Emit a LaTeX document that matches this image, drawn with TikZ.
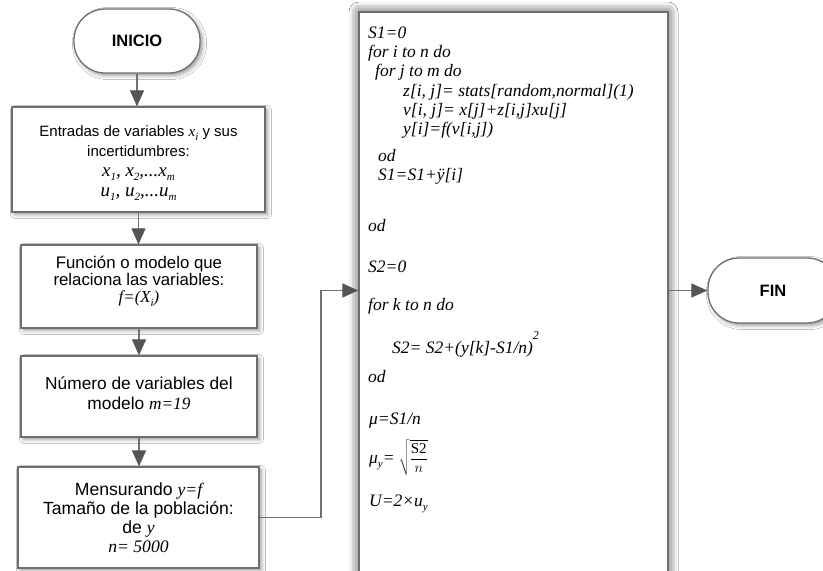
\documentclass[tikz,border=0pt]{standalone}
\usepackage{fontspec}
\setmainfont{Liberation Sans}
\newfontfamily\tms{Liberation Serif}
\usetikzlibrary{arrows.meta,shadows.blur,calc}
\definecolor{boxgray}{HTML}{6E6E6E}
\definecolor{linegray}{HTML}{707070}
\definecolor{arrowgray}{HTML}{555555}
\newcommand{\ti}[1]{{\tms\itshape #1}}
\newcommand{\lsub}[1]{\raisebox{-4pt}{\fontsize{11}{11}\selectfont #1}}
\begin{document}
\begin{tikzpicture}[x=1pt,y=-1pt,
  box/.style={draw=boxgray, line width=1.3pt, fill=white, inner sep=0pt, align=center,
    blur shadow={shadow xshift=2.5pt, shadow yshift=-2.5pt, shadow blur radius=4pt, shadow opacity=40}},
  term/.style={box, rounded corners=31pt, font=\bfseries\fontsize{16.5}{18}\selectfont},
  arr/.style={draw=linegray, line width=1.2pt, -{Triangle[length=16pt,width=14pt,color=arrowgray]}},
  code/.style={anchor=base west, inner sep=0pt, font=\tms\itshape\fontsize{17.5}{20}\selectfont},
  lbl/.style={align=center, inner sep=0pt}]
\useasboundingbox (0,0) rectangle (823,571);
\clip (0,0) rectangle (823,571);
\fill[white] (0,0) rectangle (823,571);

% left column
\node[term, minimum width=126pt, minimum height=64pt] (ini) at (137,41) {INICIO};
\node[box, minimum width=253pt, minimum height=105pt] (b1) at (138.5,159.5) {};
\node[box, minimum width=236pt, minimum height=83pt] (b2) at (139,286.5) {};
\node[box, minimum width=236pt, minimum height=81pt] (b3) at (139,396.5) {};
\node[box, minimum width=241pt, minimum height=101pt] (b4) at (138.5,517.5) {};

\node[lbl, font=\fontsize{15}{20}\selectfont] (t1) at ($(b1.center)+(0,4)$)
  {Entradas de variables \ti{x\lsub{i}} y sus\\
   incertidumbres:\\
   {\fontsize{19}{20}\selectfont\ti{x\lsub{1}, x\lsub{2},...x\lsub{m}}}\\
   {\fontsize{19}{20}\selectfont\ti{u\lsub{1}, u\lsub{2},...u\lsub{m}}}};
\node[lbl, font=\fontsize{16.8}{17}\selectfont] (t2) at ($(b2.center)+(0,-5)$)
  {Función o modelo que\\ relaciona las variables:\\ \ti{f=(X\lsub{i})}};
\node[lbl, font=\fontsize{17.3}{20}\selectfont] (t3) at ($(b3.center)+(0,-3)$)
  {Número de variables del\\ modelo \ti{m=19}};
\node[lbl, font=\fontsize{17.6}{19}\selectfont] (t4) at ($(b4.center)+(0,0)$)
  {Mensurando \ti{y=f}\\ Tamaño de la población:\\ de \ti{y}\\ \ti{n= 5000}};

% big box
\node[box, minimum width=309pt, minimum height=580pt,
  blur shadow={shadow xshift=0pt, shadow yshift=0pt, shadow blur radius=10pt, shadow opacity=45}] (big) at (513.5,302) {};

% FIN
\node[term, minimum width=130pt, minimum height=65pt] (fin) at (773,290.5) {FIN};

% connectors
\draw[arr] (ini.south) -- (ini.south |- b1.north);
\draw[arr] (b1.south) -- (b1.south |- b2.north);
\draw[arr] (b2.south) -- (b2.south |- b3.north);
\draw[arr] (b3.south) -- (b3.south |- b4.north);
\coordinate (bend) at (321,517.5);
\draw[arr] (b4.east) -- (bend) |- (big.west |- fin.west);
\draw[arr] (big.east |- fin.west) -- (fin.west);

% code text
\node[code] (c1) at (368,38) {S1=0};
\node[code] (c2) at (368,57) {for i to n do};
\node[code] (c3) at (375,76) {for j to m do};
\node[code] (c4) at (403,96) {z[i, j]= stats[random,normal](1)};
\node[code] (c5) at (403,115) {v[i, j]= x[j]+z[i,j]xu[j]};
\node[code] (c6) at (403,134) {y[i]=f(v[i,j])};
\node[code] (c7) at (378,161) {od};
\node[code] (c8) at (378,180) {S1=S1+ÿ[i]};
\node[code] (c9) at (368,231) {od};
\node[code] (c10) at (368,272) {S2=0};
\node[code] (c11) at (368,310) {for k to n do};
\node[code] (c12) at (392,353) {S2= S2+(y[k]-S1/n)\raisebox{14pt}{\fontsize{12}{12}\selectfont 2}};
\node[code] (c13) at (368,382) {od};
\node[code] (c14) at (369,424) {μ=S1/n};
\node[code] (c15) at (369,463) {μ\lsub{y}= {\fontsize{15}{17}\selectfont$\sqrt{\displaystyle\frac{\mbox{\tms\upshape\fontsize{15}{17}\selectfont S2}}{n}}$}};
\node[code] (c16) at (369,506) {U=2×u\lsub{y}};
\end{tikzpicture}
\end{document}
